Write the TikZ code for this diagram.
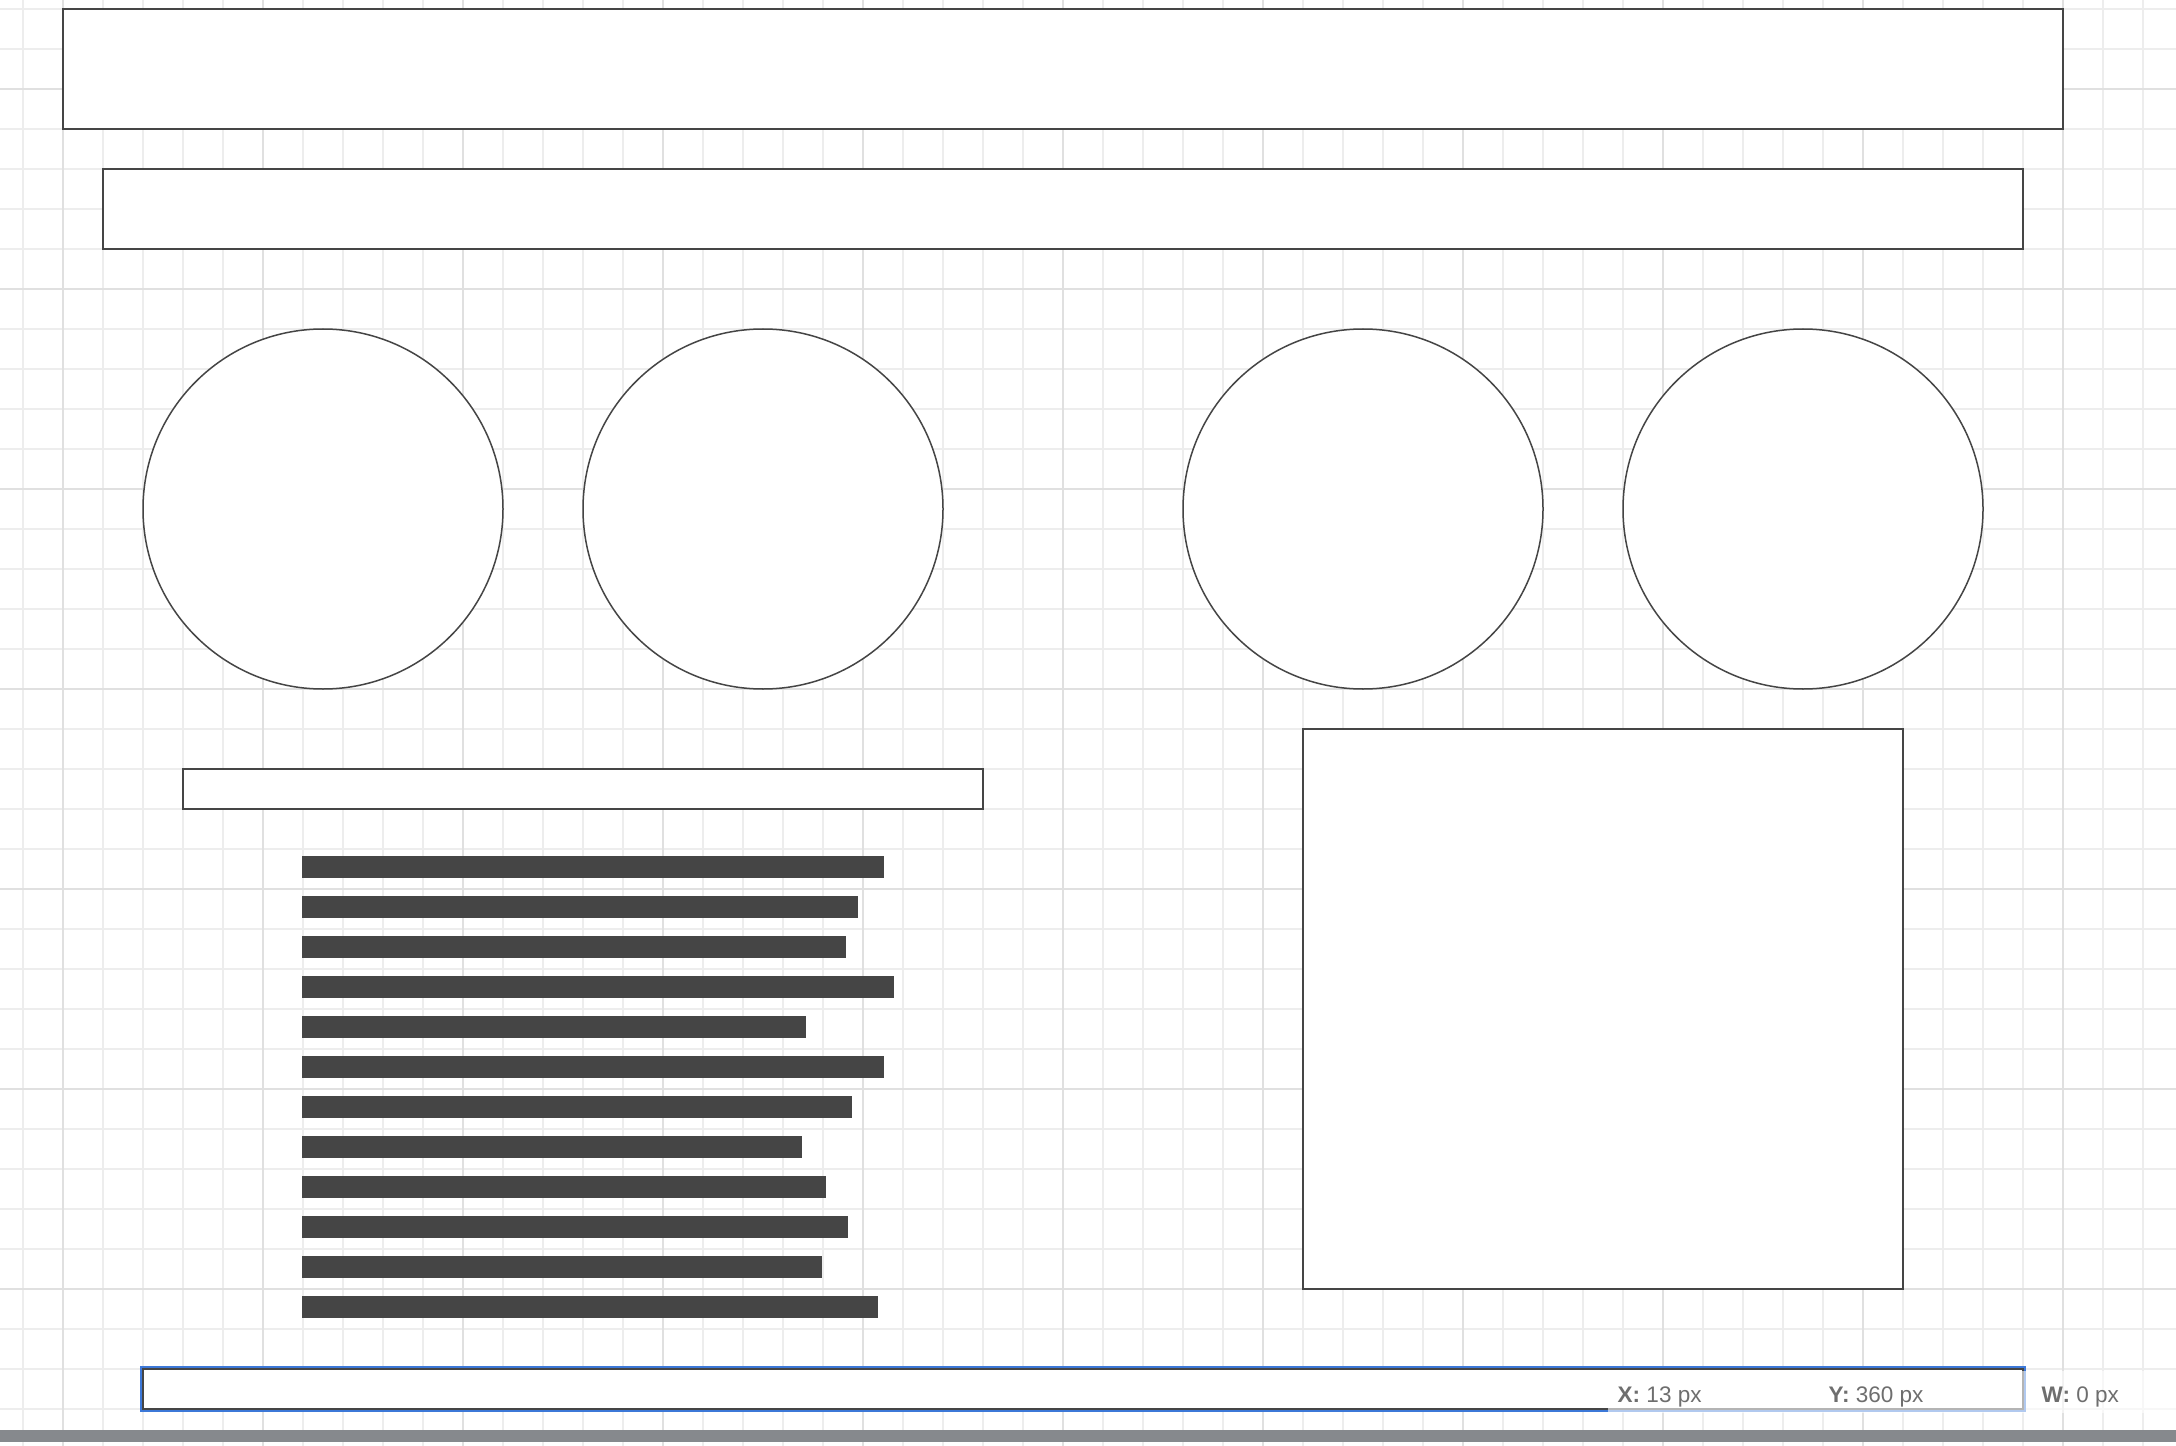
\documentclass[tikz,border=0pt]{standalone}
\usepackage{fontspec}
\setmainfont{Liberation Sans}
\definecolor{ink}{HTML}{454545}
\definecolor{gridminor}{HTML}{EDEDED}
\definecolor{gridmajor}{HTML}{E0E0E0}
\definecolor{selblue}{HTML}{3C78D8}
\definecolor{tiptext}{HTML}{6E6E6E}
\definecolor{scrollgray}{HTML}{86898D}
\tikzset{
  box/.style={draw=ink, fill=white, line width=0.02cm},
  disc/.style={draw=ink, fill=white, line width=0.015cm},
  textbar/.style={fill=ink},
  tiplabel/.style={text=tiptext, font=\fontsize{6.4}{7}\selectfont, anchor=base west, inner sep=0pt}
}
\begin{document}
\begin{tikzpicture}[x=0.01cm, y=-0.01cm]
    \def\R{180}
    \useasboundingbox (0,0) rectangle (2176,1446);
    \fill[white] (0,0) rectangle (2176,1446);

    % Grid
    \foreach \gx in {23,63,...,2183}
        \draw[gridminor, line width=0.015cm] (\gx,0) -- (\gx,1446);
    \foreach \gy in {9,49,...,1449}
        \draw[gridminor, line width=0.015cm] (0,\gy) -- (2176,\gy);
    \foreach \gx in {63,263,...,2063}
        \draw[gridmajor, line width=0.015cm] (\gx,0) -- (\gx,1446);
    \foreach \gy in {89,289,...,1489}
        \draw[gridmajor, line width=0.015cm] (0,\gy) -- (2176,\gy);

    % Header and navigation
    \draw[box] (63,9) rectangle (2063,129);
    \draw[box] (103,169) rectangle (2023,249);

    % Circles
    \foreach \cx in {323,763,1363,1803}
        \draw[disc] (\cx,509) circle (\R);

    % Heading and text lines
    \draw[box] (183,769) rectangle (983,809);
    \foreach \w [count=\i from 0] in {582,556,544,592,504,582,550,500,524,546,520,576}
        \fill[textbar] (302,{856+40*\i}) rectangle ({302+\w},{878+40*\i});

    % Image
    \draw[box] (1303,729) rectangle (1903,1289);

    % Footer (selected)
    \draw[selblue, line width=0.02cm] (141,1367) rectangle (2025,1411);
    \draw[box] (143,1369) rectangle (2023,1409);

    % Position tooltip
    \fill[white, opacity=0.6] (1608,1371) rectangle (2176,1413);
    \node[tiplabel] (tipx) at (1617,1402) {\textbf{X:} 13 px};
    \node[tiplabel] (tipy) at (1828,1402) {\textbf{Y:} 360 px};
    \node[tiplabel] (tipw) at (2041,1402) {\textbf{W:} 0 px};

    % Scroll bar
    \fill[scrollgray] (0,1430) rectangle (2176,1442);
\end{tikzpicture}
\end{document}
